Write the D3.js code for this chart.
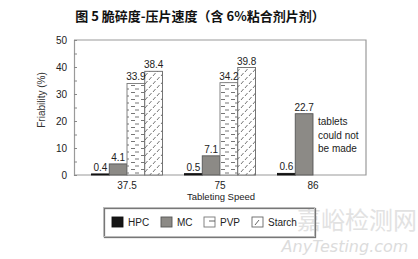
<!DOCTYPE html>
<html>
<head>
<meta charset="utf-8">
<script src="https://cdn.jsdelivr.net/npm/d3@7/dist/d3.min.js"></script>
<style>
  html, body { margin: 0; padding: 0; background: #fff; }
  svg { display: block; }
</style>
</head>
<body>
<script>
// Friability vs tableting speed, tablets with 6% binder
const categories = ["37.5", "75", "86"];
const seriesNames = ["HPC", "MC", "PVP", "Starch"];
const hpcValues = [0.4, 0.5, 0.6];
const mcValues = [4.1, 7.1, 22.7];
const pvpValues = [33.9, 34.2, null];
const starchValues = [38.4, 39.8, null];
const yTicks = [0, 10, 20, 30, 40, 50];
const noteLines = ["tablets", "could not", "be made"];

const seriesValues = [hpcValues, mcValues, pvpValues, starchValues];

const W = 418, H = 259;
const svg = d3.select("body").append("svg").attr("width", W).attr("height", H);
const defs = svg.append("defs");

// Horizontal dash fill for PVP
const pv = defs.append("pattern").attr("id", "pvp").attr("patternUnits", "userSpaceOnUse")
  .attr("width", 10).attr("height", 7);
pv.append("rect").attr("width", 10).attr("height", 7).attr("fill", "#fff");
pv.append("line").attr("x1", 1).attr("x2", 5).attr("y1", 1.5).attr("y2", 1.5).attr("stroke", "#666").attr("stroke-width", 0.9);
pv.append("line").attr("x1", 5).attr("x2", 9).attr("y1", 5).attr("y2", 5).attr("stroke", "#666").attr("stroke-width", 0.9);

// Diagonal dash fill for Starch
const st = defs.append("pattern").attr("id", "starch").attr("patternUnits", "userSpaceOnUse")
  .attr("width", 8).attr("height", 8);
st.append("rect").attr("width", 8).attr("height", 8).attr("fill", "#fff");
st.append("line").attr("x1", 1).attr("y1", 4).attr("x2", 3.5).attr("y2", 1).attr("stroke", "#666").attr("stroke-width", 0.9);
st.append("line").attr("x1", 5).attr("y1", 8).attr("x2", 7.5).attr("y2", 5).attr("stroke", "#666").attr("stroke-width", 0.9);

const fills = { HPC: "#151515", MC: "#8c8a86", PVP: "url(#pvp)", Starch: "url(#starch)" };
const strokes = { HPC: "#111", MC: "#555", PVP: "#777", Starch: "#666" };

const plot = { left: 74, right: 366, top: 40, bottom: 175 };
const font = "'Liberation Sans', Arial, sans-serif";

// Title
svg.append("text").attr("x", 200).attr("y", 21).attr("text-anchor", "middle")
  .attr("font-family", "'Noto Sans CJK SC', sans-serif").attr("font-weight", "bold")
  .attr("font-size", 13).attr("fill", "#111")
  .text("图 5  脆碎度-压片速度（含 6%粘合剂片剂）");

// Watermark
svg.append("text").attr("x", 357).attr("y", 229).attr("text-anchor", "middle")
  .attr("font-family", "'Noto Sans CJK SC', sans-serif").attr("font-size", 24)
  .attr("fill", "#e2e2e2").text("嘉峪检测网");
svg.append("text").attr("x", 345).attr("y", 252).attr("text-anchor", "middle")
  .attr("font-family", "'DejaVu Sans', sans-serif").attr("font-style", "italic").attr("font-size", 16)
  .attr("fill", "#dcdcdc").text("AnyTesting.com");

const y = d3.scaleLinear().domain([0, 50]).range([plot.bottom, plot.top]);
const x0 = d3.scalePoint().domain(categories).range([plot.left, plot.right]).padding(0.57);
const x1 = d3.scaleBand().domain(seriesNames).range([-35.5, 35.5]).paddingInner(0);

// Frame (top, right, bottom)
svg.append("path")
  .attr("d", `M${plot.left},${plot.top}H${plot.right}V${plot.bottom}H${plot.left}`)
  .attr("fill", "none").attr("stroke", "#9a9a9a").attr("stroke-width", 1.2);

// Y axis
const yAxis = d3.axisRight(y).tickValues(d3.range(0, 51, 5)).tickSize(3).tickFormat("");
const ya = svg.append("g").attr("transform", `translate(${plot.left},0)`).call(yAxis);
ya.select(".domain").attr("stroke", "#9a9a9a").attr("stroke-width", 1.2);
ya.selectAll(".tick line").attr("stroke", "#888");
svg.append("g").selectAll("text").data(yTicks).join("text")
  .attr("x", 67).attr("y", d => y(d) + 3.5).attr("text-anchor", "end")
  .attr("font-family", font).attr("font-size", 10).attr("fill", "#222").text(d => d);

svg.append("text").attr("transform", "translate(45,100) rotate(-90)").attr("text-anchor", "middle")
  .attr("font-family", font).attr("font-size", 10).attr("fill", "#333").text("Friability (%)");

// Bars
const barData = [];
categories.forEach((c, i) => {
  seriesNames.forEach((s, j) => {
    const v = seriesValues[j][i];
    if (v !== null) barData.push({ c, s, v });
  });
});
const bars = svg.append("g");
bars.selectAll("rect").data(barData).join("rect")
  .attr("x", d => x0(d.c) + x1(d.s))
  .attr("y", d => y(d.v))
  .attr("width", x1.bandwidth())
  .attr("height", d => plot.bottom - y(d.v))
  .attr("fill", d => fills[d.s])
  .attr("stroke", d => strokes[d.s]).attr("stroke-width", 0.9);

bars.selectAll("text").data(barData).join("text")
  .attr("x", d => x0(d.c) + x1(d.s) + x1.bandwidth() / 2)
  .attr("y", d => y(d.v) - 3)
  .attr("text-anchor", "middle")
  .attr("font-family", font).attr("font-size", 10).attr("fill", "#222")
  .text(d => d.v.toFixed(1));

// Note for missing bars at 86
svg.append("g").selectAll("text").data(noteLines).join("text")
  .attr("x", x0("86") + 5).attr("y", (d, i) => 125 + i * 13.5)
  .attr("font-family", font).attr("font-size", 10).attr("fill", "#222").text(d => d);

// X category labels
svg.append("g").selectAll("text").data(categories).join("text")
  .attr("x", d => x0(d)).attr("y", 189).attr("text-anchor", "middle")
  .attr("font-family", font).attr("font-size", 10).attr("fill", "#222").text(d => d);

svg.append("text").attr("x", 221).attr("y", 200).attr("text-anchor", "middle")
  .attr("font-family", font).attr("font-size", 9.5).attr("fill", "#222").text("Tableting Speed");

// Legend
const lg = svg.append("g");
lg.append("rect").attr("x", 104.5).attr("y", 208.5).attr("width", 211).attr("height", 29)
  .attr("fill", "none").attr("stroke", "#777").attr("stroke-width", 1.3);
lg.append("rect").attr("x", 103.5).attr("y", 207.5).attr("width", 211).attr("height", 29)
  .attr("fill", "#fff").attr("fill-opacity", 0).attr("stroke", "#bbb").attr("stroke-width", 1);
const legendX = [112, 161, 204, 252];
const items = lg.selectAll("g.item").data(seriesNames).join("g").attr("class", "item")
  .attr("transform", (d, i) => `translate(${legendX[i]},217)`);
items.append("rect").attr("width", 11).attr("height", 10)
  .attr("fill", d => d === "PVP" || d === "Starch" ? "#fff" : fills[d])
  .attr("stroke", d => strokes[d]).attr("stroke-width", 0.9);
items.filter(d => d === "PVP").append("line").attr("x1", 5).attr("x2", 11).attr("y1", 4).attr("y2", 4)
  .attr("stroke", "#555").attr("stroke-width", 0.9);
items.filter(d => d === "Starch").append("line").attr("x1", 3).attr("y1", 8).attr("x2", 7).attr("y2", 3)
  .attr("stroke", "#555").attr("stroke-width", 0.9);
items.append("text").attr("x", 16).attr("y", 9).attr("font-family", font).attr("font-size", 10)
  .attr("fill", "#222").text(d => d);
</script>
</body>
</html>
